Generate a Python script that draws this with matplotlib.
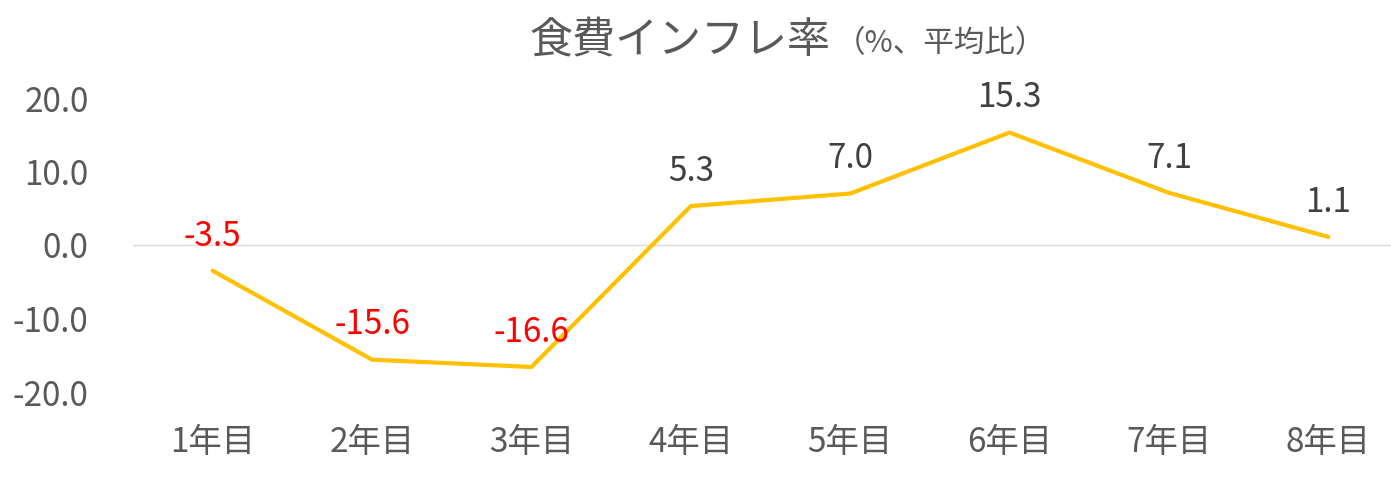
import matplotlib
matplotlib.use('Agg')
import matplotlib.pyplot as plt

plt.rcParams['font.family'] = ['Noto Sans CJK JP', 'DejaVu Sans']

years = ['1年目', '2年目', '3年目', '4年目', '5年目', '6年目', '7年目', '8年目']
inflation = [-3.5, -15.6, -16.6, 5.3, 7.0, 15.3, 7.1, 1.1]
yticks = [-20, -10, 0, 10, 20]

fig = plt.figure(figsize=(13.91, 4.82), dpi=100)
ax = fig.add_axes([133 / 1391, 90 / 482, 1275 / 1391, 294 / 482])

x = list(range(len(years)))
ax.plot(x, inflation, color='#FFC000', linewidth=3, solid_capstyle='round',
        solid_joinstyle='round', zorder=3)
ax.axhline(0, color='#D9D9D9', linewidth=1, zorder=1)

for xi, v in zip(x, inflation):
    col = 'red' if v < 0 else '#404040'
    ax.annotate(f'{v:.1f}', (xi, v), xytext=(0, 25), textcoords='offset points',
                ha='center', va='center', fontsize=24, color=col, zorder=4)

ax.set_xlim(-0.5, len(years) - 0.5)
ax.set_ylim(-20, 20)
ax.set_xticks(x)
ax.set_xticklabels(years)
ax.set_yticks(yticks)
ax.set_yticklabels([f'{t:.1f}' for t in yticks])
ax.tick_params(axis='both', length=0, labelsize=24, labelcolor='#595959')
ax.tick_params(axis='x', pad=24)
ax.tick_params(axis='y', pad=32)
for s in ax.spines.values():
    s.set_visible(False)

fig.text(0.597, 0.915, '食費インフレ率', ha='right', va='center',
         fontsize=31, color='#595959')
fig.text(0.600, 0.910, '（%、平均比）', ha='left', va='center',
         fontsize=22, color='#595959')

fig.savefig('out.png', dpi=100)
